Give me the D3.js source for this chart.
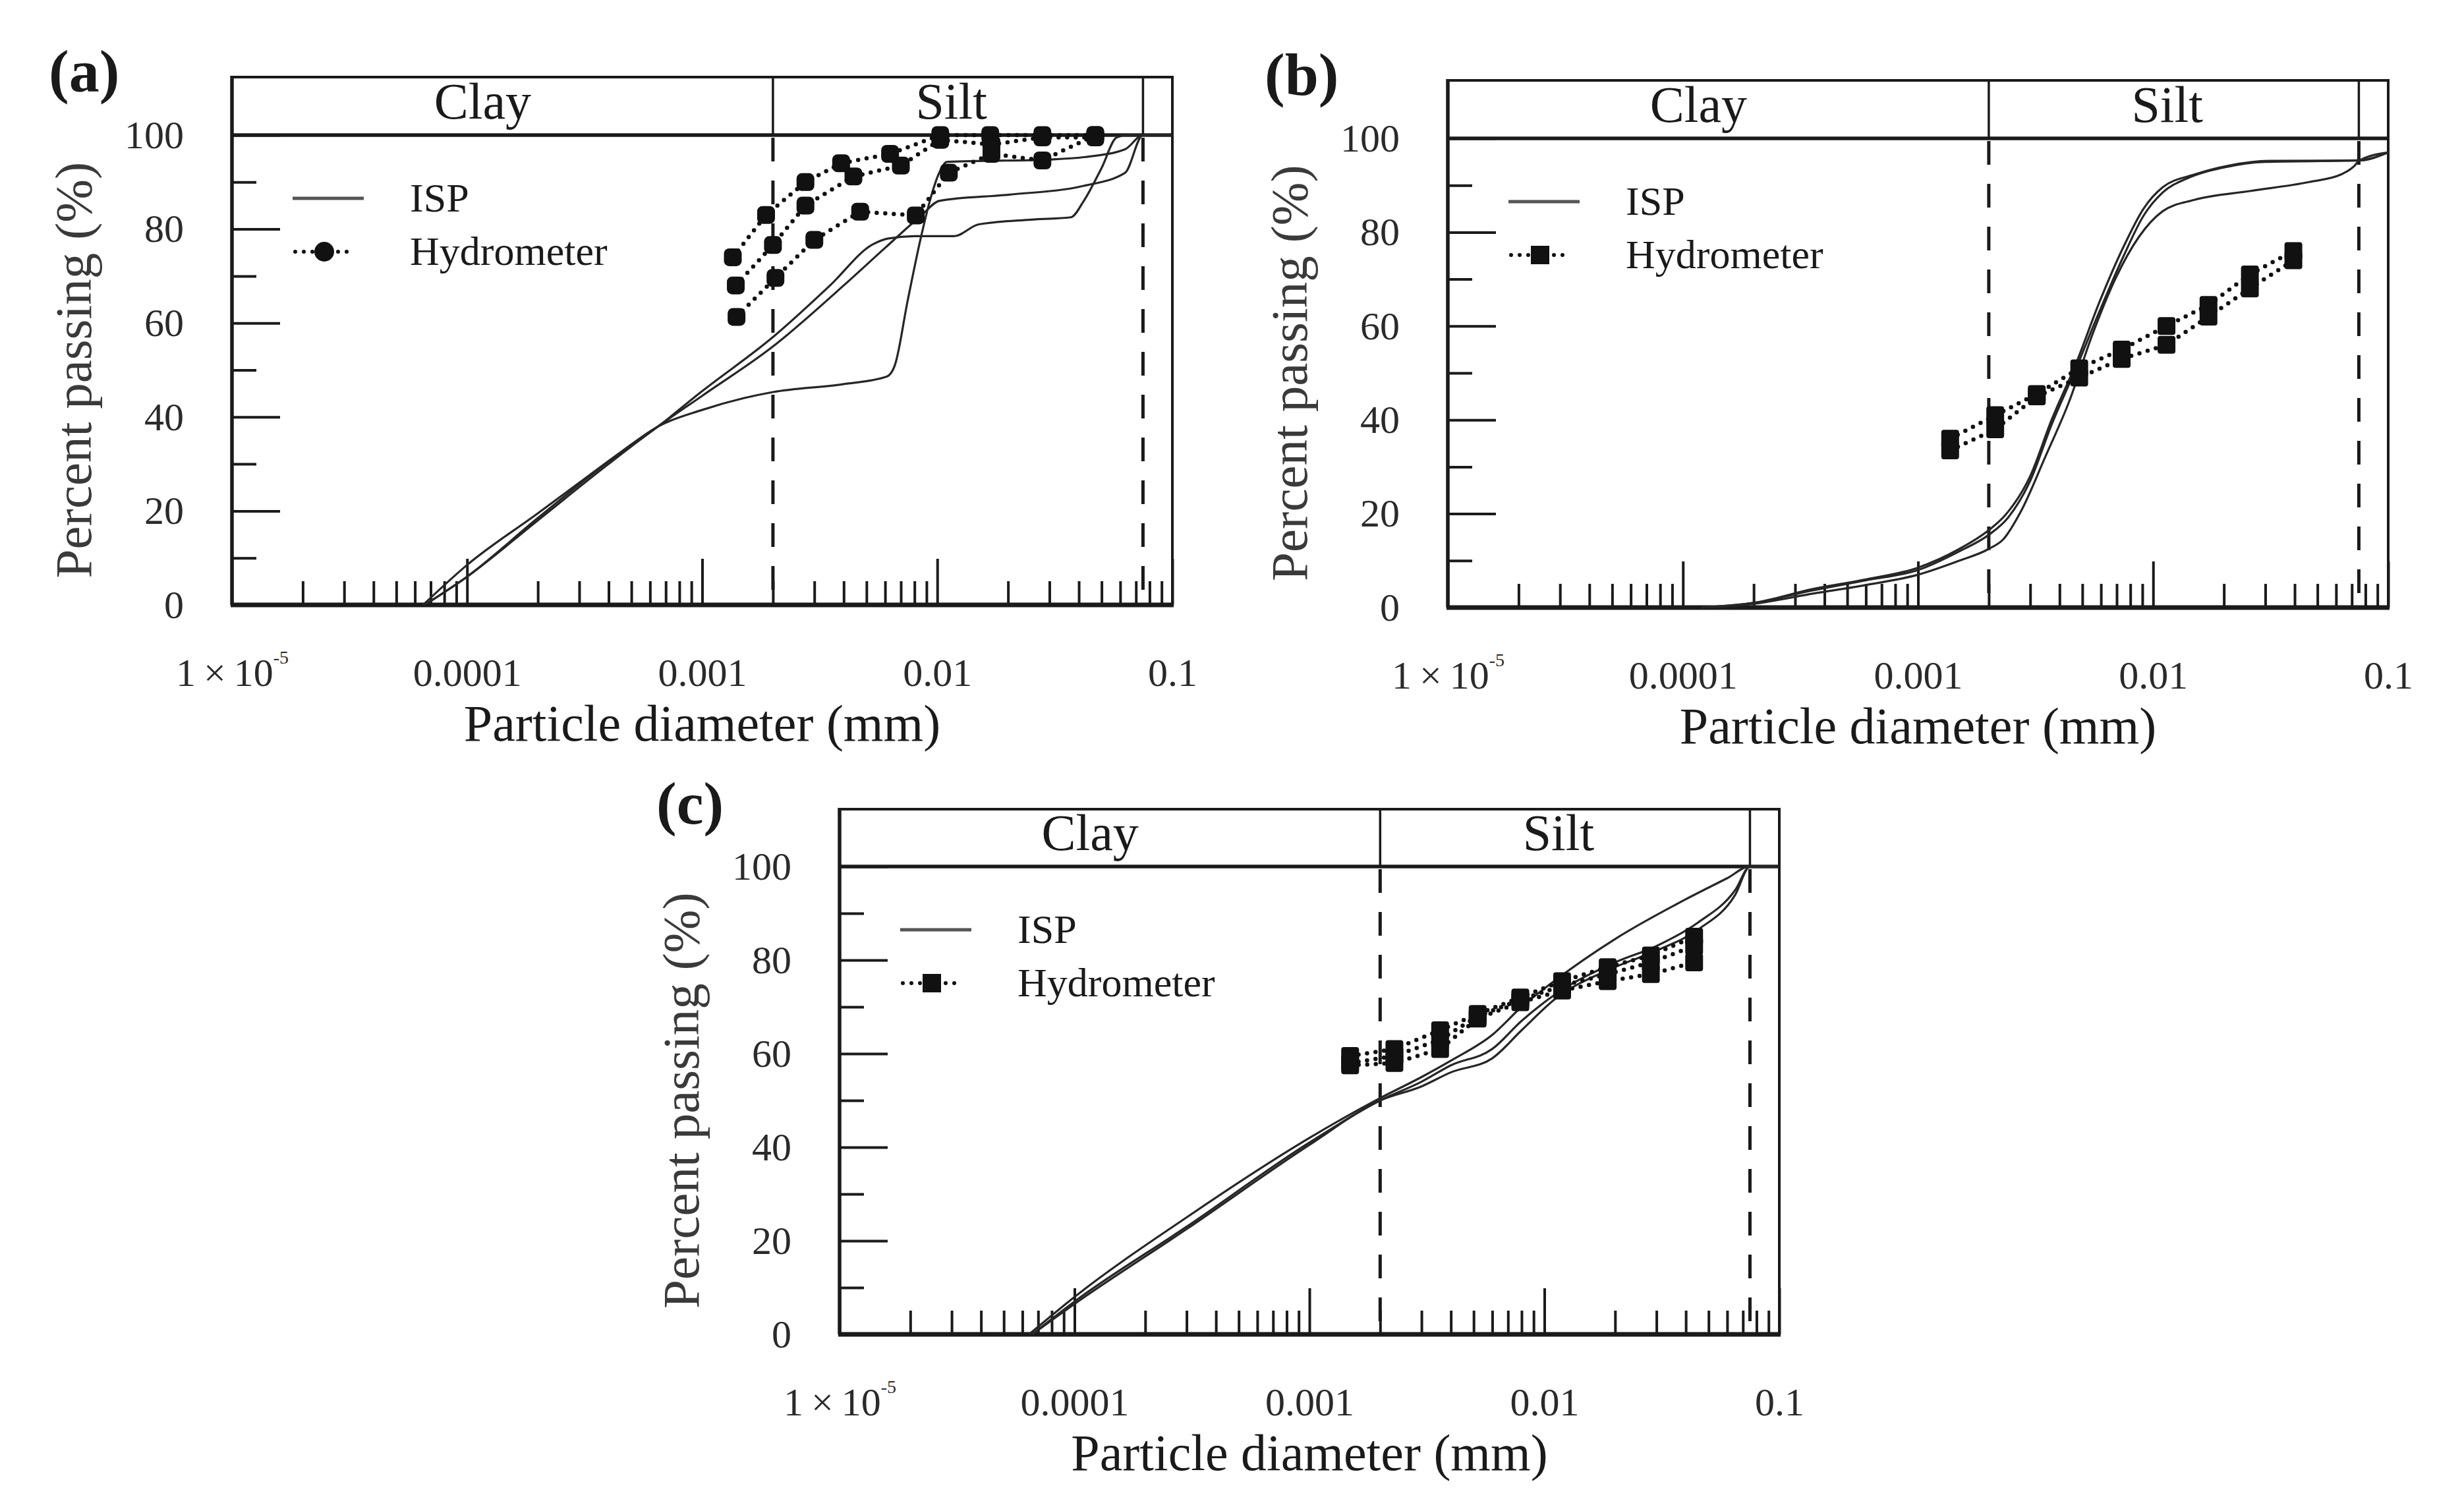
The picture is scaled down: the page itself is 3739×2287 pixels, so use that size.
<!DOCTYPE html>
<html>
<head>
<meta charset="utf-8">
<script src="https://cdn.jsdelivr.net/npm/d3@7"></script>
<style>
  body { margin: 0; background: #fff; }
  text { font-family: "Liberation Serif", "Times New Roman", serif; }
</style>
</head>
<body>
<svg id="chart"></svg>
<script>
// axis ticks and labels
const diameterTicks = [1e-5, 1e-4, 1e-3, 1e-2, 1e-1];
const diameterLabels = ["1×10", "0.0001", "0.001", "0.01", "0.1"];
const percentMajor = [0, 20, 40, 60, 80, 100];
const percentMinor = [10, 30, 50, 70, 90];
const zoneBounds = [0.002, 0.075];
const zoneNames = ["Clay", "Silt"];
const legendNames = ["ISP", "Hydrometer"];

// (a) ISP curves  [diameter mm, percent passing]
const ispA1 = [[6.6e-5,0],[1e-4,6],[2e-4,18],[4e-4,30],[6.5e-4,38],[0.001,44.5],[0.002,55],[0.004,68],[0.006,76],[0.0086,83],[0.0102,86],[0.02,87.3],[0.042,89.2],[0.063,92],[0.075,100],[0.1,100]];
const ispA2 = [[6.6e-5,0],[1e-4,6],[2e-4,18.5],[4e-4,30.5],[6.5e-4,38],[0.001,45.5],[0.002,57],[0.0035,68],[0.0053,76.7],[0.0062,78],[0.008,78.5],[0.0118,78.5],[0.015,81],[0.025,82],[0.037,82.5],[0.042,86],[0.05,93],[0.058,99.5],[0.065,100],[0.1,100]];
const ispA3 = [[6.5e-5,0],[1e-4,8.5],[2e-4,19.5],[3e-4,26],[4.5e-4,32.5],[6.5e-4,38],[0.001,41.5],[0.0015,44],[0.002,45.3],[0.004,47],[0.0061,48.6],[0.0066,51],[0.0075,65],[0.0085,78],[0.0093,86],[0.0102,92],[0.011,94.3],[0.03,94.8],[0.042,95.3],[0.063,97],[0.075,100],[0.1,100]];
// (a) hydrometer
const hydA1 = [[0.00135,74],[0.00187,83],[0.00275,90],[0.0039,94],[0.0063,96],[0.0103,100],[0.0168,100],[0.028,100],[0.047,100]];
const hydA2 = [[0.00139,68],[0.002,76.6],[0.00275,85],[0.0044,91.2],[0.007,93.5],[0.0103,99],[0.017,98],[0.028,99.5],[0.047,99.5]];
const hydA3 = [[0.0014,61.3],[0.00205,69.6],[0.003,77.7],[0.0047,83.7],[0.0081,82.9],[0.0112,92],[0.017,96],[0.028,94.6],[0.047,100]];

// (b) ISP curves
const ispB1 = [[1.2e-4,0],[2e-4,1],[3.6e-4,4],[6e-4,6],[0.001,8.5],[0.0015,12.5],[0.002,16.5],[0.00235,19.7],[0.003,28],[0.0037,40],[0.0047,52],[0.0059,65],[0.0075,77],[0.0091,85],[0.011,89.6],[0.015,92.3],[0.021,94.2],[0.031,95.2],[0.075,95.3],[0.1,97]];
const ispB2 = [[1.2e-4,0],[2e-4,1],[3.6e-4,3.7],[6e-4,5.8],[0.001,8],[0.0015,12],[0.002,15.5],[0.0024,19],[0.003,27],[0.0037,39],[0.0047,51],[0.0059,63],[0.0075,75],[0.0091,83.5],[0.011,88.5],[0.014,91.5],[0.02,93.8],[0.03,95],[0.075,95.3],[0.1,97]];
const ispB3 = [[1.2e-4,0],[2e-4,0.8],[3.6e-4,3],[6e-4,4.8],[0.001,7],[0.0015,10],[0.002,12.5],[0.0023,14.5],[0.00274,20.5],[0.00347,32],[0.0044,44],[0.0055,58],[0.0069,70],[0.0087,79],[0.011,84.5],[0.015,86.9],[0.026,88.8],[0.046,90.7],[0.063,92.3],[0.072,94.2],[0.075,95.2],[0.1,97]];
// (b) hydrometer
const hydB1 = [[0.00137,36],[0.00213,41],[0.0032,45.5],[0.00485,51],[0.00735,55],[0.0114,60],[0.0172,64.5],[0.0258,71],[0.0395,76]];
const hydB2 = [[0.00137,33.5],[0.00213,38],[0.0032,45],[0.00485,49],[0.00735,53],[0.0114,56],[0.0172,62],[0.0258,68],[0.0395,74]];

// (c) ISP curves
const ispC1 = [[6.4e-5,0],[1e-4,8],[3e-4,25],[0.001,42],[0.002,50.5],[0.003,55],[0.004,58.5],[0.006,64],[0.008,70],[0.011,75.5],[0.02,84.5],[0.04,93],[0.06,97.5],[0.075,100],[0.1,100]];
const ispC2 = [[6.6e-5,0],[1e-4,7],[3e-4,23],[0.001,41],[0.002,50],[0.003,54],[0.004,57.5],[0.006,61],[0.008,67],[0.011,72.5],[0.02,79.5],[0.03,83],[0.045,88],[0.065,95],[0.075,100],[0.1,100]];
const ispC3 = [[6.6e-5,0],[1e-4,6.5],[3e-4,22.5],[0.001,40.5],[0.002,50],[0.003,53],[0.004,56],[0.006,59],[0.008,65],[0.011,71.5],[0.02,78.5],[0.03,82],[0.045,86.5],[0.065,94],[0.075,100],[0.1,100]];
// (c) hydrometer
const hydC1 = [[0.00149,59.5],[0.0023,61],[0.0036,65],[0.0052,68.5],[0.0079,72],[0.0119,75.5],[0.0186,78.5],[0.0284,81],[0.0434,85]];
const hydC2 = [[0.00149,58],[0.0023,59.5],[0.0036,63],[0.0052,68],[0.0079,71.5],[0.0119,74.5],[0.0186,77],[0.0284,79.5],[0.0434,83]];
const hydC3 = [[0.00149,57.5],[0.0023,58],[0.0036,61],[0.0052,67.5],[0.0079,71],[0.0119,73.5],[0.0186,75.5],[0.0284,77],[0.0434,79.5]];

const panels = [
  { label: "(a)", x0: 352, x1: 1779, top: 117, y100: 205, y0: 918, isp: [ispA1, ispA2, ispA3], hyd: [hydA1, hydA2, hydA3], round: true },
  { label: "(b)", x0: 2197, x1: 3624, top: 122, y100: 210, y0: 922, isp: [ispB1, ispB2, ispB3], hyd: [hydB1, hydB2], round: false },
  { label: "(c)", x0: 1274, x1: 2700, top: 1228, y100: 1315, y0: 2025, isp: [ispC1, ispC2, ispC3], hyd: [hydC1, hydC2, hydC3], round: false }
];

const W = 3739, H = 2287;
const ink = "#1a1a1a";
const zoneShift = [-30, -10]; // header words sit a little left of centre

const svg = d3.select("#chart").attr("width", W).attr("height", H);
svg.append("rect").attr("width", W).attr("height", H).attr("fill", "#fff");

const drawPanel = (p) => {
  const g = svg.append("g");
  const x = d3.scaleLog().domain([1e-5, 0.1]).range([p.x0, p.x1]);
  const y = d3.scaleLinear().domain([0, 100]).range([p.y0, p.y100]);

  // x ticks: minor, then decades with labels
  const minor = x.ticks().filter(d => !diameterTicks.some(t => Math.abs(t - d) / t < 1e-6));
  g.append("g")
    .attr("transform", `translate(0,${p.y0})`)
    .call(d3.axisBottom(x).tickValues(minor).tickSize(-36).tickFormat(""))
    .call(a => a.select(".domain").remove());

  const xMajor = g.append("g")
    .attr("transform", `translate(0,${p.y0})`)
    .call(d3.axisBottom(x).tickValues(diameterTicks).tickSize(-70).tickPadding(80)
      .tickFormat((d, i) => diameterLabels[i]))
    .call(a => a.select(".domain").remove());
  xMajor.attr("font-size", 60).attr("font-family", null);
  xMajor.selectAll(".tick text").attr("fill", "#2a2a2a");
  // superscript for 1×10^-5
  xMajor.selectAll(".tick text").filter((d, i) => i === 0)
    .text(null)
    .call(t => {
      t.append("tspan").text("1\u2009×\u200910");
      t.append("tspan").text("-5").attr("font-size", 28).attr("dy", "-1.2em");
    });

  // y ticks
  g.append("g")
    .attr("transform", `translate(${p.x0},0)`)
    .call(d3.axisLeft(y).tickValues(percentMinor).tickSize(-37).tickFormat(""))
    .call(a => a.select(".domain").remove());
  const yMajor = g.append("g")
    .attr("transform", `translate(${p.x0},0)`)
    .call(d3.axisLeft(y).tickValues(percentMajor).tickSize(-73).tickPadding(73))
    .call(a => a.select(".domain").remove());
  yMajor.attr("font-size", 60).attr("font-family", null);
  yMajor.selectAll(".tick text").attr("fill", "#2a2a2a");

  g.selectAll(".tick line").attr("stroke", ink).attr("stroke-width", 4);

  // frame and header box
  const frame = g.append("g").attr("stroke", ink).attr("fill", "none");
  frame.append("line").attr("x1", p.x0).attr("x2", p.x1).attr("y1", p.top).attr("y2", p.top).attr("stroke-width", 4);
  frame.append("line").attr("x1", p.x0).attr("x2", p.x1).attr("y1", y(100)).attr("y2", y(100)).attr("stroke-width", 5.5);
  frame.append("line").attr("x1", p.x0 - 2).attr("x2", p.x1 + 2).attr("y1", y(0)).attr("y2", y(0)).attr("stroke-width", 7);
  frame.append("line").attr("x1", p.x0).attr("x2", p.x0).attr("y1", p.top - 2).attr("y2", y(0)).attr("stroke-width", 5.5);
  frame.append("line").attr("x1", p.x1).attr("x2", p.x1).attr("y1", p.top - 2).attr("y2", y(0)).attr("stroke-width", 4);

  zoneBounds.forEach(b => {
    frame.append("line").attr("x1", x(b)).attr("x2", x(b)).attr("y1", p.top).attr("y2", y(100)).attr("stroke-width", 3.5);
    frame.append("line").attr("x1", x(b)).attr("x2", x(b)).attr("y1", y(100) + 4).attr("y2", y(0))
      .attr("stroke-width", 5).attr("stroke-dasharray", "36 29");
  });

  const zoneEdges = [1e-5, ...zoneBounds];
  zoneNames.forEach((name, i) => {
    g.append("text")
      .attr("x", (x(zoneEdges[i]) + x(zoneEdges[i + 1])) / 2 + zoneShift[i])
      .attr("y", y(100) - 25)
      .attr("text-anchor", "middle")
      .attr("font-size", 78)
      .attr("fill", ink)
      .text(name);
  });

  // ISP curves
  const smooth = d3.line().x(d => x(d[0])).y(d => y(d[1])).curve(d3.curveMonotoneX);
  g.selectAll(".isp").data(p.isp).join("path")
    .attr("class", "isp")
    .attr("d", smooth)
    .attr("fill", "none")
    .attr("stroke", "#262626")
    .attr("stroke-width", 3.2);

  // hydrometer series
  const straight = d3.line().x(d => x(d[0])).y(d => y(d[1]));
  g.selectAll(".hyd").data(p.hyd).join("path")
    .attr("class", "hyd")
    .attr("d", straight)
    .attr("fill", "none")
    .attr("stroke", "#111")
    .attr("stroke-width", 6.5)
    .attr("stroke-linecap", "round")
    .attr("stroke-dasharray", "0 13");

  const ms = 27;
  g.selectAll(".mk").data(p.hyd.flat()).join("rect")
    .attr("class", "mk")
    .attr("x", d => x(d[0]) - ms / 2)
    .attr("y", d => y(d[1]) - ms / 2)
    .attr("width", ms).attr("height", ms)
    .attr("rx", p.round ? 8 : 4)
    .attr("fill", "#111");

  // legend
  const ly1 = p.y100 + 96, ly2 = p.y100 + 177;
  g.append("line").attr("x1", p.x0 + 92).attr("x2", p.x0 + 200).attr("y1", ly1).attr("y2", ly1)
    .attr("stroke", "#555").attr("stroke-width", 5);
  g.append("line").attr("x1", p.x0 + 96).attr("x2", p.x0 + 182).attr("y1", ly2).attr("y2", ly2)
    .attr("stroke", "#111").attr("stroke-width", 6).attr("stroke-linecap", "round").attr("stroke-dasharray", "0 13");
  if (p.round) {
    g.append("circle").attr("cx", p.x0 + 140).attr("cy", ly2).attr("r", 15).attr("fill", "#111");
  } else {
    g.append("rect").attr("x", p.x0 + 126).attr("y", ly2 - 14).attr("width", 28).attr("height", 28).attr("fill", "#111");
  }
  [ly1, ly2].forEach((ly, i) => {
    g.append("text")
      .attr("x", p.x0 + 270)
      .attr("y", ly + 20)
      .attr("font-size", 62)
      .attr("fill", ink)
      .text(legendNames[i]);
  });

  // titles
  g.append("text")
    .attr("transform", `translate(${p.x0 - 214},${(y(0) + y(100)) / 2}) rotate(-90)`)
    .attr("text-anchor", "middle")
    .attr("font-size", 79)
    .attr("fill", "#3a3a3a")
    .text("Percent passing (%)");
  g.append("text")
    .attr("x", (p.x0 + p.x1) / 2)
    .attr("y", y(0) + 206)
    .attr("text-anchor", "middle")
    .attr("font-size", 78)
    .attr("fill", ink)
    .text("Particle diameter (mm)");
  g.append("text")
    .attr("x", p.x0 - 278)
    .attr("y", p.top + 22)
    .attr("font-size", 92)
    .attr("font-weight", "bold")
    .attr("fill", ink)
    .text(p.label);
};

panels.forEach(drawPanel);
</script>
</body>
</html>
